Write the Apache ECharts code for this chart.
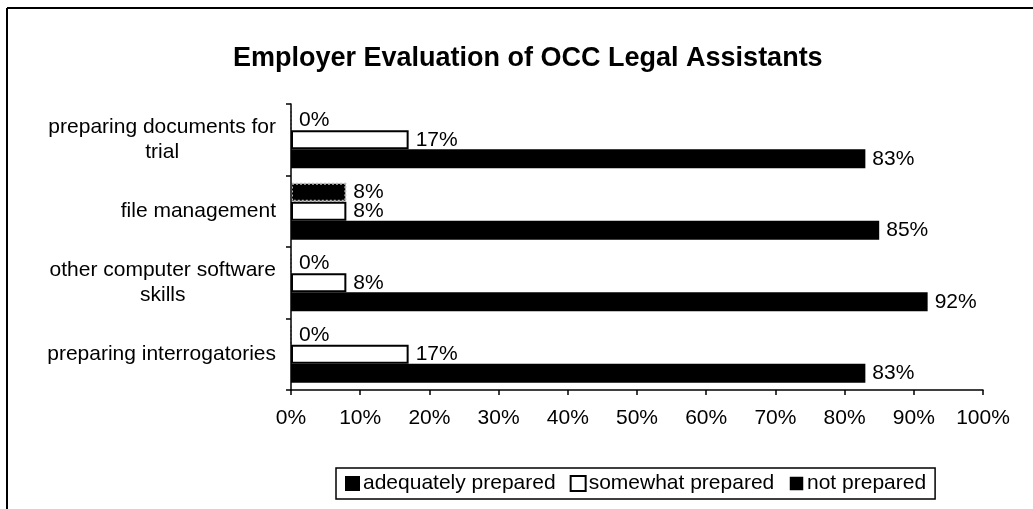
<!DOCTYPE html>
<html>
<head>
<meta charset="utf-8">
<title>Employer Evaluation of OCC Legal Assistants</title>
<script src="https://cdn.jsdelivr.net/npm/echarts@6/dist/echarts.min.js"></script>
<style>
  html, body { margin: 0; padding: 0; background: #fff; }
  #chart { width: 1033px; height: 509px; }
</style>
</head>
<body>
<div id="chart"></div>
<script>
// categories, top to bottom
var categories = [
  "preparing documents for\ntrial",
  "file management",
  "other computer software\nskills",
  "preparing interrogatories"
];
// percent values per category
var notPrepared = [0, 8, 0, 0];
var somewhatPrepared = [17, 8, 8, 17];
var adequatelyPrepared = [83, 85, 92, 83];
var xTicks = [0, 10, 20, 30, 40, 50, 60, 70, 80, 90, 100];

var font = "Liberation Sans, Arial, Helvetica, sans-serif";

var chart = echarts.init(document.getElementById("chart"));

var labelStyle = {
  show: true,
  position: "right",
  distance: 7,
  formatter: "{c}%",
  color: "#000",
  fontSize: 21,
  fontFamily: font
};

var option = {
  animation: false,
  backgroundColor: "#fff",
  textStyle: { fontFamily: font, color: "#000" },
  title: {
    text: "Employer Evaluation of OCC Legal Assistants",
    left: 233,
    top: 45,
    padding: 0,
    textStyle: { fontSize: 27, fontWeight: "bold", color: "#000", fontFamily: font }
  },
  legend: {
    left: 336,
    top: 468,
    orient: "horizontal",
    padding: [5, 9],
    itemGap: 14,
    itemWidth: 15,
    itemHeight: 15,
    icon: "rect",
    borderColor: "#000",
    borderWidth: 1.5,
    textStyle: { fontSize: 21, color: "#000", fontFamily: font, padding: [0, 0, 0, -2] },
    data: [
      { name: "adequately prepared", itemStyle: { color: "#000", borderWidth: 0 } },
      { name: "somewhat prepared", itemStyle: { color: "#fff", borderColor: "#000", borderWidth: 2 } },
      { name: "not prepared", itemStyle: { color: "#000", borderColor: "#fff", borderWidth: 1.5 } }
    ]
  },
  graphic: [
    { type: "line", shape: { x1: 7, y1: 8, x2: 1033, y2: 8 }, style: { stroke: "#000", lineWidth: 2 } },
    { type: "line", shape: { x1: 7, y1: 8, x2: 7, y2: 509 }, style: { stroke: "#000", lineWidth: 2 } }
  ],
  grid: {
    left: 291,
    right: 50,
    top: 104,
    bottom: 119,
    containLabel: false
  },
  xAxis: {
    type: "value",
    min: xTicks[0],
    max: xTicks[xTicks.length - 1],
    interval: 10,
    axisLine: { show: true, lineStyle: { color: "#000", width: 1.5 } },
    axisTick: { show: true, length: 5, lineStyle: { color: "#000", width: 1.5 } },
    splitLine: { show: false },
    axisLabel: {
      formatter: "{value}%",
      margin: 18,
      fontSize: 21,
      color: "#000",
      fontFamily: font
    }
  },
  yAxis: {
    type: "category",
    inverse: true,
    z: 10,
    data: categories,
    axisLine: { show: true, lineStyle: { color: "#000", width: 1.5 } },
    axisTick: { show: true, length: 5, lineStyle: { color: "#000", width: 1.5 } },
    axisLabel: {
      margin: 15,
      color: "#000",
      fontSize: 21,
      fontFamily: font,
      lineHeight: 25,
      formatter: function (v) {
        return v.split("\n").map(function (s) { return "{c|" + s + "}"; }).join("\n");
      },
      rich: {
        c: { align: "center", fontSize: 21, lineHeight: 25, color: "#000", fontFamily: font }
      }
    }
  },
  series: [
    {
      name: "not prepared",
      type: "bar",
      data: notPrepared,
      barGap: "0%",
      barCategoryGap: "20%",
      itemStyle: { color: "#000", borderColor: "#bbb", borderWidth: 2, borderType: "dotted" },
      label: labelStyle
    },
    {
      name: "somewhat prepared",
      type: "bar",
      data: somewhatPrepared,
      barGap: "0%",
      barCategoryGap: "20%",
      itemStyle: { color: "#fff", borderColor: "#000", borderWidth: 2 },
      label: labelStyle
    },
    {
      name: "adequately prepared",
      type: "bar",
      data: adequatelyPrepared,
      barGap: "0%",
      barCategoryGap: "20%",
      itemStyle: { color: "#000" },
      label: labelStyle
    }
  ]
};

chart.setOption(option);
</script>
</body>
</html>
